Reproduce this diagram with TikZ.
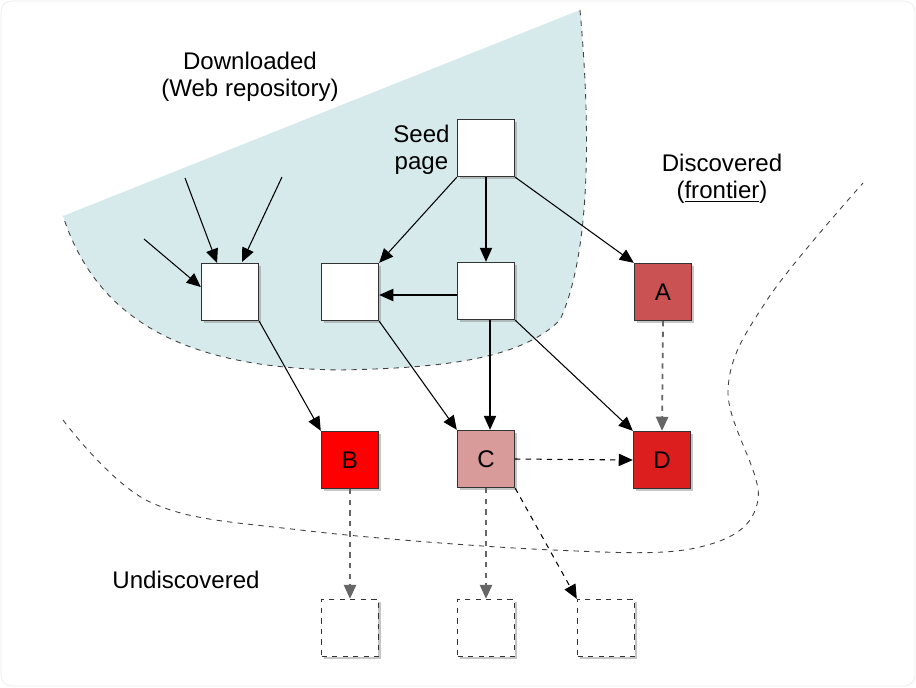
\documentclass[tikz,border=0pt]{standalone}
\usepackage{fontspec}
\setmainfont{Liberation Sans}
\usetikzlibrary{arrows.meta,positioning,shadows}

\definecolor{repo}{RGB}{214,234,236}
\definecolor{nodeA}{RGB}{203,82,82}
\definecolor{nodeB}{RGB}{255,0,0}
\definecolor{nodeC}{RGB}{217,154,154}
\definecolor{nodeD}{RGB}{220,30,30}

\begin{document}
\begin{tikzpicture}[x=0.02cm,y=-0.02cm,
    every node/.style={font=\fontsize{13.7}{15.5}\selectfont},
    page/.style={draw=black!80, line width=0.8pt, minimum size=1.14cm, inner sep=0pt,
        fill=white, drop shadow={shadow xshift=1.3pt, shadow yshift=-1.3pt, opacity=0.45}},
    unseen/.style={page, dashed, draw=black!80},
    link/.style={line width=0.6pt, -{Triangle[length=8pt,width=7pt]}},
    later/.style={link, dashed},
    laterg/.style={link, dashed, draw=black!60, line width=1pt}]
    \useasboundingbox (0,0) rectangle (916,687);
    % Frame
    \draw[black!8, rounded corners=6pt] (1,1) rectangle (915,686);
    % Downloaded region
    \fill[repo] (63,216) -- (580,10) .. controls (590,120) and (592,250) .. (560,320)
        .. controls (520,360) and (440,368) .. (340,370)
        .. controls (200,368) and (100,330) .. (63,216) -- cycle;
    \draw[dashed, black!75, line width=0.5pt] (580,10) .. controls (590,120) and (592,250) .. (560,320)
        .. controls (520,360) and (440,368) .. (340,370)
        .. controls (200,368) and (100,330) .. (63,216);
    % Frontier boundary
    \draw[dashed, black!75, line width=0.5pt] plot[smooth, tension=0.6] coordinates
        {(63,420) (150,502) (300,530) (553,550) (700,547) (758,500) (728,390) (767,300) (863,183)};
    % Labels
    \node[align=center] (dl) at (250,77) {Downloaded\\(Web repository)};
    \node[align=center] (dc) at (722,179) {Discovered\\(\underline{frontier})};
    \node (ud) at (186,580) {Undiscovered};
    % Pages
    \node[page] (seed) at (486,148) {};
    \node[align=center, left=0.02cm of seed, yshift=-0.03cm] (seedlbl) {Seed\\page};
    \node[page] (p1) at (230,292) {};
    \node[page] (p2) at (350,292) {};
    \node[page] (p3) at (486,291) {};
    \node[page, fill=nodeA] (a) at (663,292) {A};
    \node[page, fill=nodeB] (b) at (350,460) {B};
    \node[page, fill=nodeC] (c) at (486,459) {C};
    \node[page, fill=nodeD] (d) at (662,460) {D};
    \node[unseen] (u1) at (350,628) {};
    \node[unseen] (u2) at (486,628) {};
    \node[unseen] (u3) at (606,628) {};
    % Incoming links from outside
    \coordinate (in1) at (144,239);
    \coordinate (in2) at (185,178);
    \coordinate (in3) at (282,177);
    \draw[link] (in1) -- (p1.west |- 0,287);
    \draw[link] (in2) -- (217,263);
    \draw[link] (in3) -- (242,262);
    % Followed links
    \draw[link] (seed.south west) -- (p2.north east);
    \draw[link] (seed.south) -- (p3.north);
    \draw[link] (seed.south east) -- (a.north west);
    \draw[link] (p3.west |- 0,295) -- (p2.east |- 0,295);
    \draw[link] (p1.south east) -- (b.north west);
    \draw[link] (p2.south east) -- (c.north west);
    \draw[link] ([xshift=0.08cm]p3.south) -- ([xshift=0.08cm]c.north);
    \draw[link] (p3.south east) -- (d.north west);
    % Links not yet followed
    \draw[laterg] (a.south) -- (d.north);
    \draw[later] (c.east) -- (d.west);
    \draw[laterg] (b.south) -- (u1.north);
    \draw[laterg] (c.south) -- (u2.north);
    \draw[later] (c.south east) -- (u3.north west);
\end{tikzpicture}
\end{document}
